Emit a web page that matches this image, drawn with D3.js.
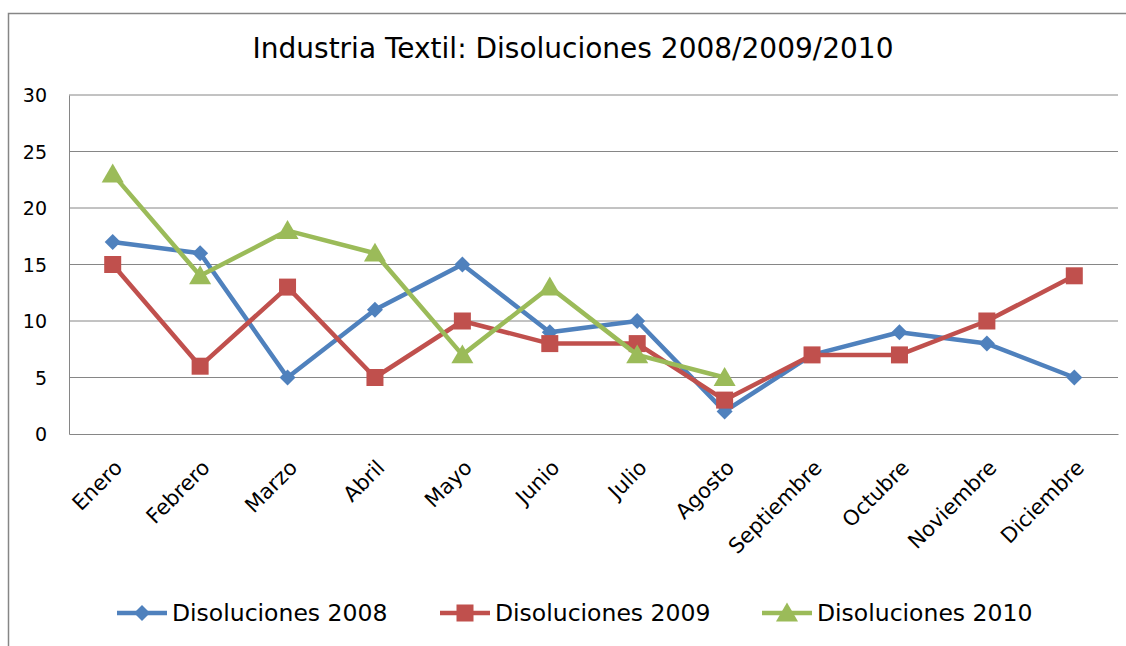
<!DOCTYPE html>
<html>
<head>
<meta charset="utf-8">
<script src="https://cdn.jsdelivr.net/npm/d3@7"></script>
<style>
  body { margin: 0; background: #fff; }
  text { font-family: "DejaVu Sans", Verdana, sans-serif; fill: #000; }
</style>
</head>
<body>
<script>
var months = ['Enero', 'Febrero', 'Marzo', 'Abril', 'Mayo', 'Junio', 'Julio', 'Agosto',
  'Septiembre', 'Octubre', 'Noviembre', 'Diciembre']
var values2008 = [17, 16, 5, 11, 15, 9, 10, 2, 7, 9, 8, 5]
var values2009 = [15, 6, 13, 5, 10, 8, 8, 3, 7, 7, 10, 14]
var values2010 = [23, 14, 18, 16, 7, 13, 7, 5]
var yTicks = [0, 5, 10, 15, 20, 25, 30]
var seriesNames = ['Disoluciones 2008', 'Disoluciones 2009', 'Disoluciones 2010']

var series = [
  {name: seriesNames[0], values: values2008, color: '#4F81BD', shape: 'diamond'},
  {name: seriesNames[1], values: values2009, color: '#C0504D', shape: 'square'},
  {name: seriesNames[2], values: values2010, color: '#9BBB59', shape: 'triangle'}
]

var W = 1126, H = 646
var margin = {top: 95, right: 8, bottom: 212, left: 69}
var width = W - margin.left - margin.right
var height = H - margin.top - margin.bottom

var svg = d3.select('body').append('svg')
  .attr('width', W)
  .attr('height', H)

// outer frame
svg.append('rect')
  .attr('x', 8.5).attr('y', 13.5)
  .attr('width', W + 10).attr('height', H + 10)
  .attr('fill', 'none').attr('stroke', '#868686').attr('stroke-width', 1.5)

svg.append('text')
  .attr('x', 573).attr('y', 58)
  .attr('text-anchor', 'middle')
  .style('font-size', '28px')
  .text('Industria Textil: Disoluciones 2008/2009/2010')

var g = svg.append('g')
  .attr('transform', `translate(${margin.left}, ${margin.top})`)

var x = d3.scaleBand().domain(months).range([0, width])
var y = d3.scaleLinear().domain([0, 30]).range([height, 0])

// gridlines
g.selectAll('.grid')
  .data(yTicks.filter(d => d > 0))
  .enter().append('line')
  .attr('x1', 0).attr('x2', width)
  .attr('y1', d => y(d)).attr('y2', d => y(d))
  .attr('stroke', '#868686').attr('stroke-width', 1)

// axes
var yAxis = g.append('g')
  .call(d3.axisLeft(y).tickValues(yTicks).tickSize(0).tickPadding(22))
yAxis.select('.domain').attr('stroke', '#868686')
yAxis.selectAll('text').style('font-size', '19px').attr('dy', '0.35em')

var xAxis = g.append('g')
  .attr('transform', `translate(0, ${height})`)
  .call(d3.axisBottom(x).tickSize(0).tickPadding(0))
xAxis.select('.domain').attr('stroke', '#868686')
xAxis.selectAll('text')
  .style('font-size', '21px')
  .attr('text-anchor', 'end')
  .attr('dy', '0')
  .attr('transform', 'translate(11, 35) rotate(-45)')

var line = d3.line()
  .x((d, i) => x(months[i]) + x.bandwidth() / 2)
  .y(d => y(d))

function marker(sel, shape, color, size) {
  if (shape === 'diamond') {
    sel.append('path').attr('d', `M0,${-size}L${size},0L0,${size}L${-size},0Z`).attr('fill', color)
  } else if (shape === 'square') {
    sel.append('rect').attr('x', -size).attr('y', -size)
      .attr('width', size * 2).attr('height', size * 2).attr('fill', color)
  } else {
    sel.append('path').attr('d', `M0,${-size}L${size * 1.05},${size * 0.8}L${-size * 1.05},${size * 0.8}Z`).attr('fill', color)
  }
}

var sizes = {diamond: 8, square: 8.5, triangle: 10.5}

series.forEach(function (s) {
  g.append('path')
    .datum(s.values)
    .attr('fill', 'none')
    .attr('stroke', s.color)
    .attr('stroke-width', 4.5)
    .attr('stroke-linejoin', 'round')
    .attr('d', line)
  s.values.forEach(function (v, i) {
    var m = g.append('g')
      .attr('transform', `translate(${x(months[i]) + x.bandwidth() / 2}, ${y(v)})`)
    marker(m, s.shape, s.color, sizes[s.shape])
  })
})

// legend
var legendX = [117, 440, 762]
var legend = svg.append('g').attr('transform', 'translate(0, 613)')
series.forEach(function (s, i) {
  var lg = legend.append('g').attr('transform', `translate(${legendX[i]}, 0)`)
  lg.append('line').attr('x1', 0).attr('x2', 50).attr('y1', 0).attr('y2', 0)
    .attr('stroke', s.color).attr('stroke-width', 4.5)
  var m = lg.append('g').attr('transform', 'translate(25, 0)')
  marker(m, s.shape, s.color, sizes[s.shape])
  lg.append('text').attr('x', 55).attr('y', 0).attr('dy', '0.35em')
    .style('font-size', '23.5px')
    .text(s.name)
})
</script>
</body>
</html>
